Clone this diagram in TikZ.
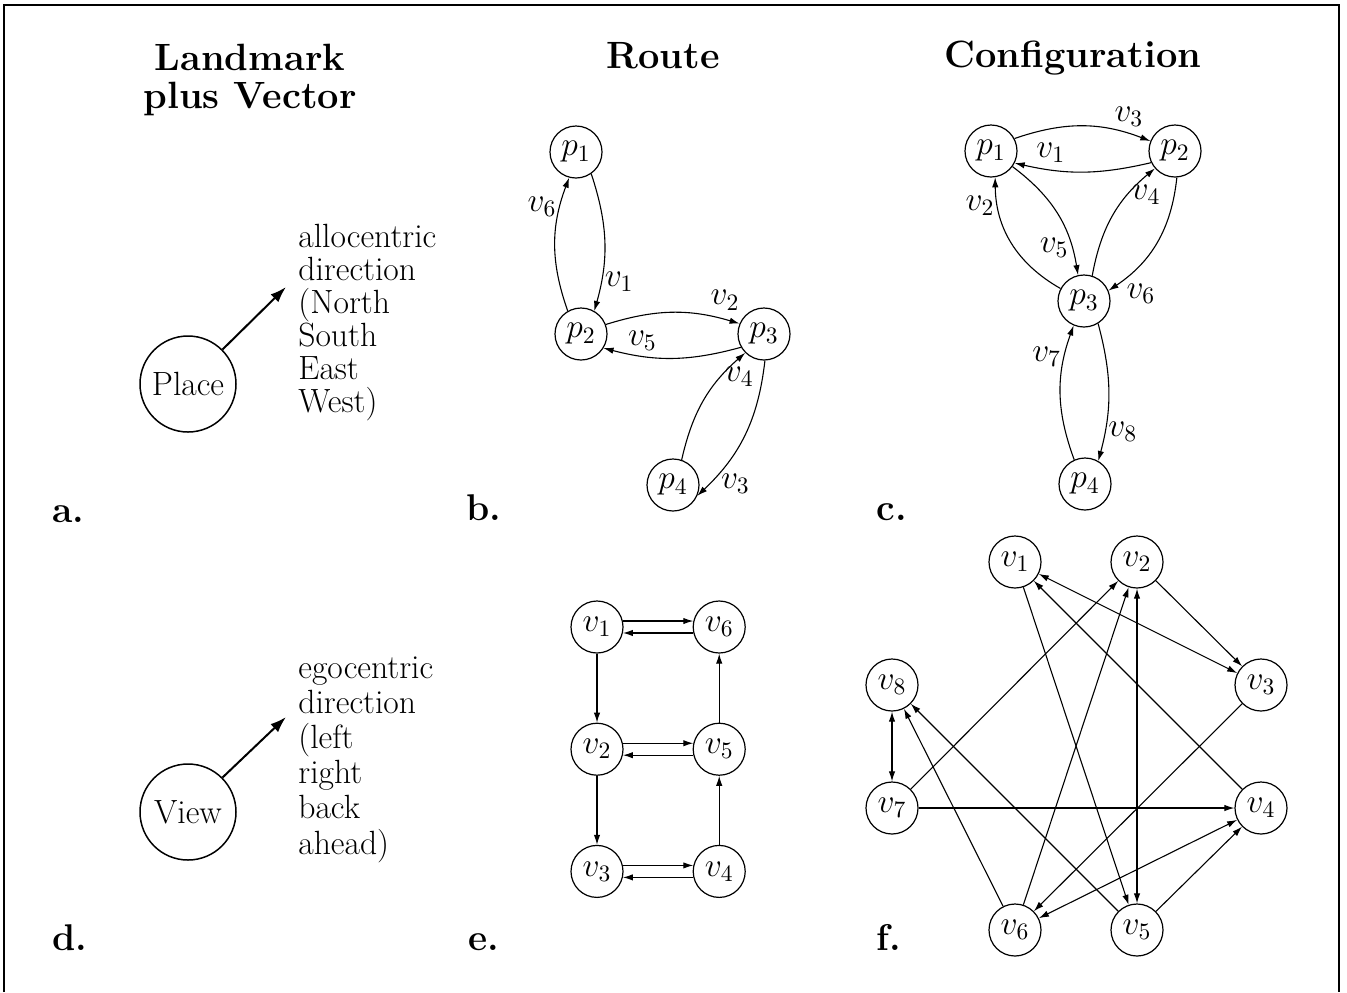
\RequirePackage{fix-cm}
\documentclass[tikz,border=0pt]{standalone}
\usetikzlibrary{positioning,arrows.meta}

\tikzset{
  state/.style={draw, circle, minimum size=26pt, inner sep=0pt, line width=0.6pt},
  bigstate/.style={draw, circle, minimum size=48pt, inner sep=0pt, line width=0.75pt},
  edge/.style={->, line width=0.55pt},
  lbl/.style={inner sep=1.5pt},
  title/.style={font=\fontsize{19}{18.7}\selectfont\bfseries, inner sep=0pt},
  panel/.style={font=\fontsize{18.6}{20}\selectfont\bfseries, inner sep=0pt, anchor=base west},
}

\begin{document}
\begin{tikzpicture}[x=0.5pt, y=-0.5pt, >={Latex[length=5pt,width=3.2pt]},
  every node/.style={font=\fontsize{16.8}{16.5}\selectfont}]

  \useasboundingbox (0,0) rectangle (1347,992);
  \draw[line width=1.4pt] (4,992) -- (4,5) -- (1339,5) -- (1339,992); % frame, open below

  \node (tland) [title, anchor=north, align=center] at (250,44) {Landmark\\plus Vector};
  \node (troute) [title, anchor=base] at (663,68) {Route};
  \node (tconf) [title, anchor=base] at (1073,67) {Configuration};

  \node (la) [panel] at (52,522) {a.};
  \node (lb) [panel] at (466,520) {b.};
  \node (lc) [panel] at (876,520) {c.};
  \node (ld) [panel] at (52,950) {d.};
  \node (le) [panel] at (468,950) {e.};
  \node (lf) [panel] at (876,950) {f.};

  % a. and d.
  \node (place) [bigstate] at (188,384) {Place};
  \coordinate (allotip) at (286,287);
  \draw[line width=1pt, -{Latex[length=8pt,width=5.5pt]}] (place.45) -- (allotip);
  \node (allotext) [anchor=north west, inner sep=0pt, align=left] at (298,224)
    {allocentric\\direction\\(North\\South\\East\\West)};

  \node (view) [bigstate] at (188,812) {View};
  \coordinate (egotip) at (286,717);
  \draw[line width=1pt, -{Latex[length=8pt,width=5.5pt]}] (view.45) -- (egotip);
  \node (egotext) [anchor=north west, inner sep=0pt, align=left,
    font=\fontsize{16.8}{17.6}\selectfont] at (298,656)
    {egocentric\\direction\\(left\\right\\back\\ahead)};

  % b. route
  \node (bp1) [state] at (576,152) {$p_1$};
  \node (bp2) [state] at (581,334) {$p_2$};
  \node (bp3) [state] at (764,334) {$p_3$};
  \node (bp4) [state] at (673,485) {$p_4$};
  \draw[edge] (bp1.-55) to[bend left=17] node[lbl, pos=0.8, right] {$v_1$} (bp2.60);
  \draw[edge] (bp2.120) to[bend left=20] node[lbl, pos=0.79, left] {$v_6$} (bp1.-105);
  \draw[edge] (bp2.21) to[bend left=17] node[lbl, pos=0.9, above=3pt] {$v_2$} (bp3.157);
  \draw[edge] (bp3.-150) to[bend left=15] node[lbl, pos=0.73, above=1pt] {$v_5$} (bp2.-32);
  \draw[edge] (bp4.71) to[bend left=18] node[lbl, pos=0.75, anchor=west] {$v_4$} (bp3.-135);
  \draw[edge] (bp3.-88) to[bend left=20] node[lbl, pos=0.9, anchor=west, xshift=4pt] {$v_3$} (bp4.-24);

  % c. configuration
  \node (cp1) [state] at (991,151) {$p_1$};
  \node (cp2) [state] at (1175,151) {$p_2$};
  \node (cp3) [state] at (1084,301) {$p_3$};
  \node (cp4) [state] at (1085,484) {$p_4$};
  \draw[edge] (cp1.28) to[bend left=20] node[lbl, pos=0.85, above=2pt] {$v_3$} (cp2.158);
  \draw[edge] (cp2.-154) to[bend left=13] node[lbl, pos=0.75, above=2pt] {$v_1$} (cp1.-27);
  \draw[edge] (cp3.152) to[bend left=30] node[lbl, pos=0.8, left] {$v_2$} (cp1.-81);
  \draw[edge] (cp1.-36) to[bend left=22] node[lbl, pos=0.8, anchor=east] {$v_5$} (cp3.103);
  \draw[edge] (cp3.72) to[bend left=20] node[lbl, pos=0.72, anchor=west] {$v_4$} (cp2.-139);
  \draw[edge] (cp2.-86) to[bend left=25] node[lbl, pos=0.88, anchor=north west] {$v_6$} (cp3.23);
  \draw[edge] (cp4.114) to[bend left=20] node[lbl, pos=0.78, anchor=east] {$v_7$} (cp3.-113);
  \draw[edge] (cp3.-58) to[bend left=15] node[lbl, pos=0.8, anchor=west] {$v_8$} (cp4.60);

  % e. views along the route
  \begin{scope}[node distance=34.5pt]
    \node (ev1) [state] at (597,627) {$v_1$};
    \node (ev6) [state, right=of ev1] {$v_6$};
    \node (ev2) [state, below=of ev1] {$v_2$};
    \node (ev5) [state, right=of ev2] {$v_5$};
    \node (ev3) [state, below=of ev2] {$v_3$};
    \node (ev4) [state, right=of ev3] {$v_4$};
  \end{scope}
  \draw[edge] (ev1.13) -- (ev6.167);
  \draw[edge] (ev6.-167) -- (ev1.-13);
  \draw[edge] (ev2.13) -- (ev5.167);
  \draw[edge] (ev5.-167) -- (ev2.-13);
  \draw[edge] (ev3.13) -- (ev4.167);
  \draw[edge] (ev4.-167) -- (ev3.-13);
  \draw[edge] (ev1) -- (ev2);
  \draw[edge] (ev2) -- (ev3);
  \draw[edge] (ev4) -- (ev5);
  \draw[edge] (ev5) -- (ev6);

  % f. all views
  \node (fv1) [state] at (1015,562) {$v_1$};
  \node (fv2) [state] at (1137,562) {$v_2$};
  \node (fv3) [state] at (1261,685) {$v_3$};
  \node (fv4) [state] at (1261,808) {$v_4$};
  \node (fv5) [state] at (1137,930) {$v_5$};
  \node (fv6) [state] at (1015,930) {$v_6$};
  \node (fv7) [state] at (892,808) {$v_7$};
  \node (fv8) [state] at (892,685) {$v_8$};
  \draw[edge, <->] (fv1) -- (fv3);
  \draw[edge] (fv2) -- (fv3);
  \draw[edge, <->] (fv2) -- (fv5);
  \draw[edge] (fv1) -- (fv5);
  \draw[edge] (fv4) -- (fv1);
  \draw[edge] (fv7) -- (fv2);
  \draw[edge] (fv6) -- (fv2);
  \draw[edge] (fv3) -- (fv6);
  \draw[edge] (fv7) -- (fv4);
  \draw[edge, <->] (fv6) -- (fv4);
  \draw[edge] (fv5) -- (fv4);
  \draw[edge, <->] (fv8) -- (fv7);
  \draw[edge] (fv6) -- (fv8);
  \draw[edge] (fv5) -- (fv8);
\end{tikzpicture}
\end{document}
